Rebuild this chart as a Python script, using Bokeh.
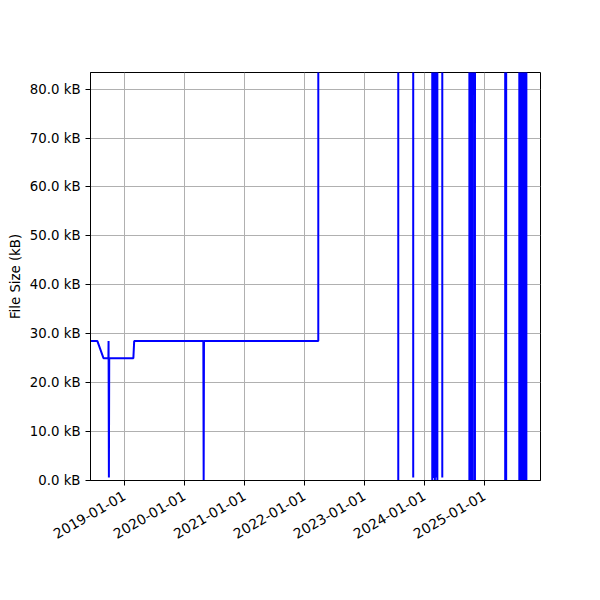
import math
from datetime import datetime

from bokeh.plotting import figure
from bokeh.models import ColumnDataSource, FixedTicker, DatetimeTickFormatter, PrintfTickFormatter, Range1d
from bokeh.embed import file_html
from bokeh.resources import INLINE

BIG = 1500.0  # sizes above the visible range (clipped at the top)

dates = [
    "2018-06-08", "2018-07-20", "2018-08-26", "2018-09-25", "2018-09-26", "2018-09-28", "2018-09-30",
    "2019-02-24", "2019-03-01",
    "2020-04-25", "2020-04-27", "2020-04-29",
    "2022-03-26", "2022-03-27",
    "2023-07-25", "2023-07-26", "2023-07-27",
    "2023-10-24", "2023-10-25", "2023-10-26",
    "2024-02-17", "2024-02-18", "2024-02-24", "2024-02-25", "2024-03-04", "2024-03-05",
    "2024-03-11", "2024-03-12", "2024-03-19", "2024-03-20", "2024-03-21",
    "2024-04-18", "2024-04-19", "2024-04-20",
    "2024-09-30", "2024-10-01", "2024-10-09", "2024-10-10", "2024-10-21", "2024-10-22",
    "2024-11-03", "2024-11-04", "2024-11-05",
    "2025-05-06", "2025-05-07", "2025-05-12", "2025-05-13", "2025-05-14",
    "2025-07-31", "2025-08-01", "2025-08-10", "2025-08-11", "2025-08-21", "2025-08-22",
    "2025-09-01", "2025-09-02", "2025-09-12", "2025-09-13", "2025-09-14",
    "2025-12-08",
]
sizes_kb = [
    28.5, 28.5, 25.0, 25.0, 28.5, 0.6, 25.0,
    25.0, 28.5,
    28.5, 0.0, 28.5,
    28.5, BIG,
    BIG, 0.0, BIG,
    BIG, 0.6, BIG,
    BIG, 0.0, BIG, 0.5, BIG, 0.0,
    BIG, 0.6, BIG, 0.0, BIG,
    BIG, 0.6, BIG,
    BIG, 0.0, BIG, 0.0, BIG, 0.0,
    BIG, 0.0, BIG,
    BIG, 0.0, BIG, 0.0, BIG,
    BIG, 0.0, BIG, 0.0, BIG, 0.0,
    BIG, 0.0, BIG, 0.0, BIG,
    BIG,
]
year_ticks = ["2019-01-01", "2020-01-01", "2021-01-01", "2022-01-01",
              "2023-01-01", "2024-01-01", "2025-01-01"]
kb_ticks = [0, 10, 20, 30, 40, 50, 60, 70, 80]


def ms(s):
    return datetime.strptime(s, "%Y-%m-%d").timestamp() * 1000.0


src = ColumnDataSource(data=dict(x=[datetime.strptime(d, "%Y-%m-%d") for d in dates], y=sizes_kb))

p = figure(width=584, height=584, x_axis_type="datetime",
           output_backend="svg", toolbar_location=None,
           frame_width=450, frame_height=408,
           min_border_left=90, min_border_top=72, min_border_right=40, min_border_bottom=100,
           x_range=Range1d(ms("2018-06-08"), ms("2025-12-08")),
           y_range=Range1d(0, 83.4))

p.line("x", "y", source=src, line_color="blue", line_width=2)

p.xaxis.ticker = FixedTicker(ticks=[ms(t) for t in year_ticks])
p.xaxis.formatter = DatetimeTickFormatter(days="%Y-%m-%d", months="%Y-%m-%d", years="%Y-%m-%d")
p.xaxis.major_label_orientation = math.pi / 6
p.yaxis.ticker = FixedTicker(ticks=kb_ticks)
p.yaxis.formatter = PrintfTickFormatter(format="%.1f kB")
p.yaxis.axis_label = "File Size (kB)"

for ax in (p.xaxis, p.yaxis):
    ax.major_label_text_font = "DejaVu Sans"
    ax.major_label_text_color = "black"
    ax.axis_line_color = "black"
    ax.major_tick_line_color = "black"
    ax.major_tick_out = 5
    ax.major_tick_in = 0
    ax.minor_tick_line_color = None
p.xaxis.major_label_text_font_size = "13.9px"
p.xaxis.major_label_standoff = 9
p.yaxis.major_label_text_font_size = "13.3px"
p.yaxis.major_label_standoff = 5
p.yaxis.axis_label_text_font = "DejaVu Sans"
p.yaxis.axis_label_text_font_size = "13.3px"
p.yaxis.axis_label_text_font_style = "normal"
p.yaxis.axis_label_text_color = "black"
p.yaxis.axis_label_standoff = 4

p.grid.grid_line_color = "#b0b0b0"
p.grid.grid_line_width = 1
p.outline_line_color = "black"
p.outline_line_alpha = 1
p.background_fill_color = "white"
p.border_fill_color = "white"

open("out.html", "w").write(file_html(p, INLINE))
